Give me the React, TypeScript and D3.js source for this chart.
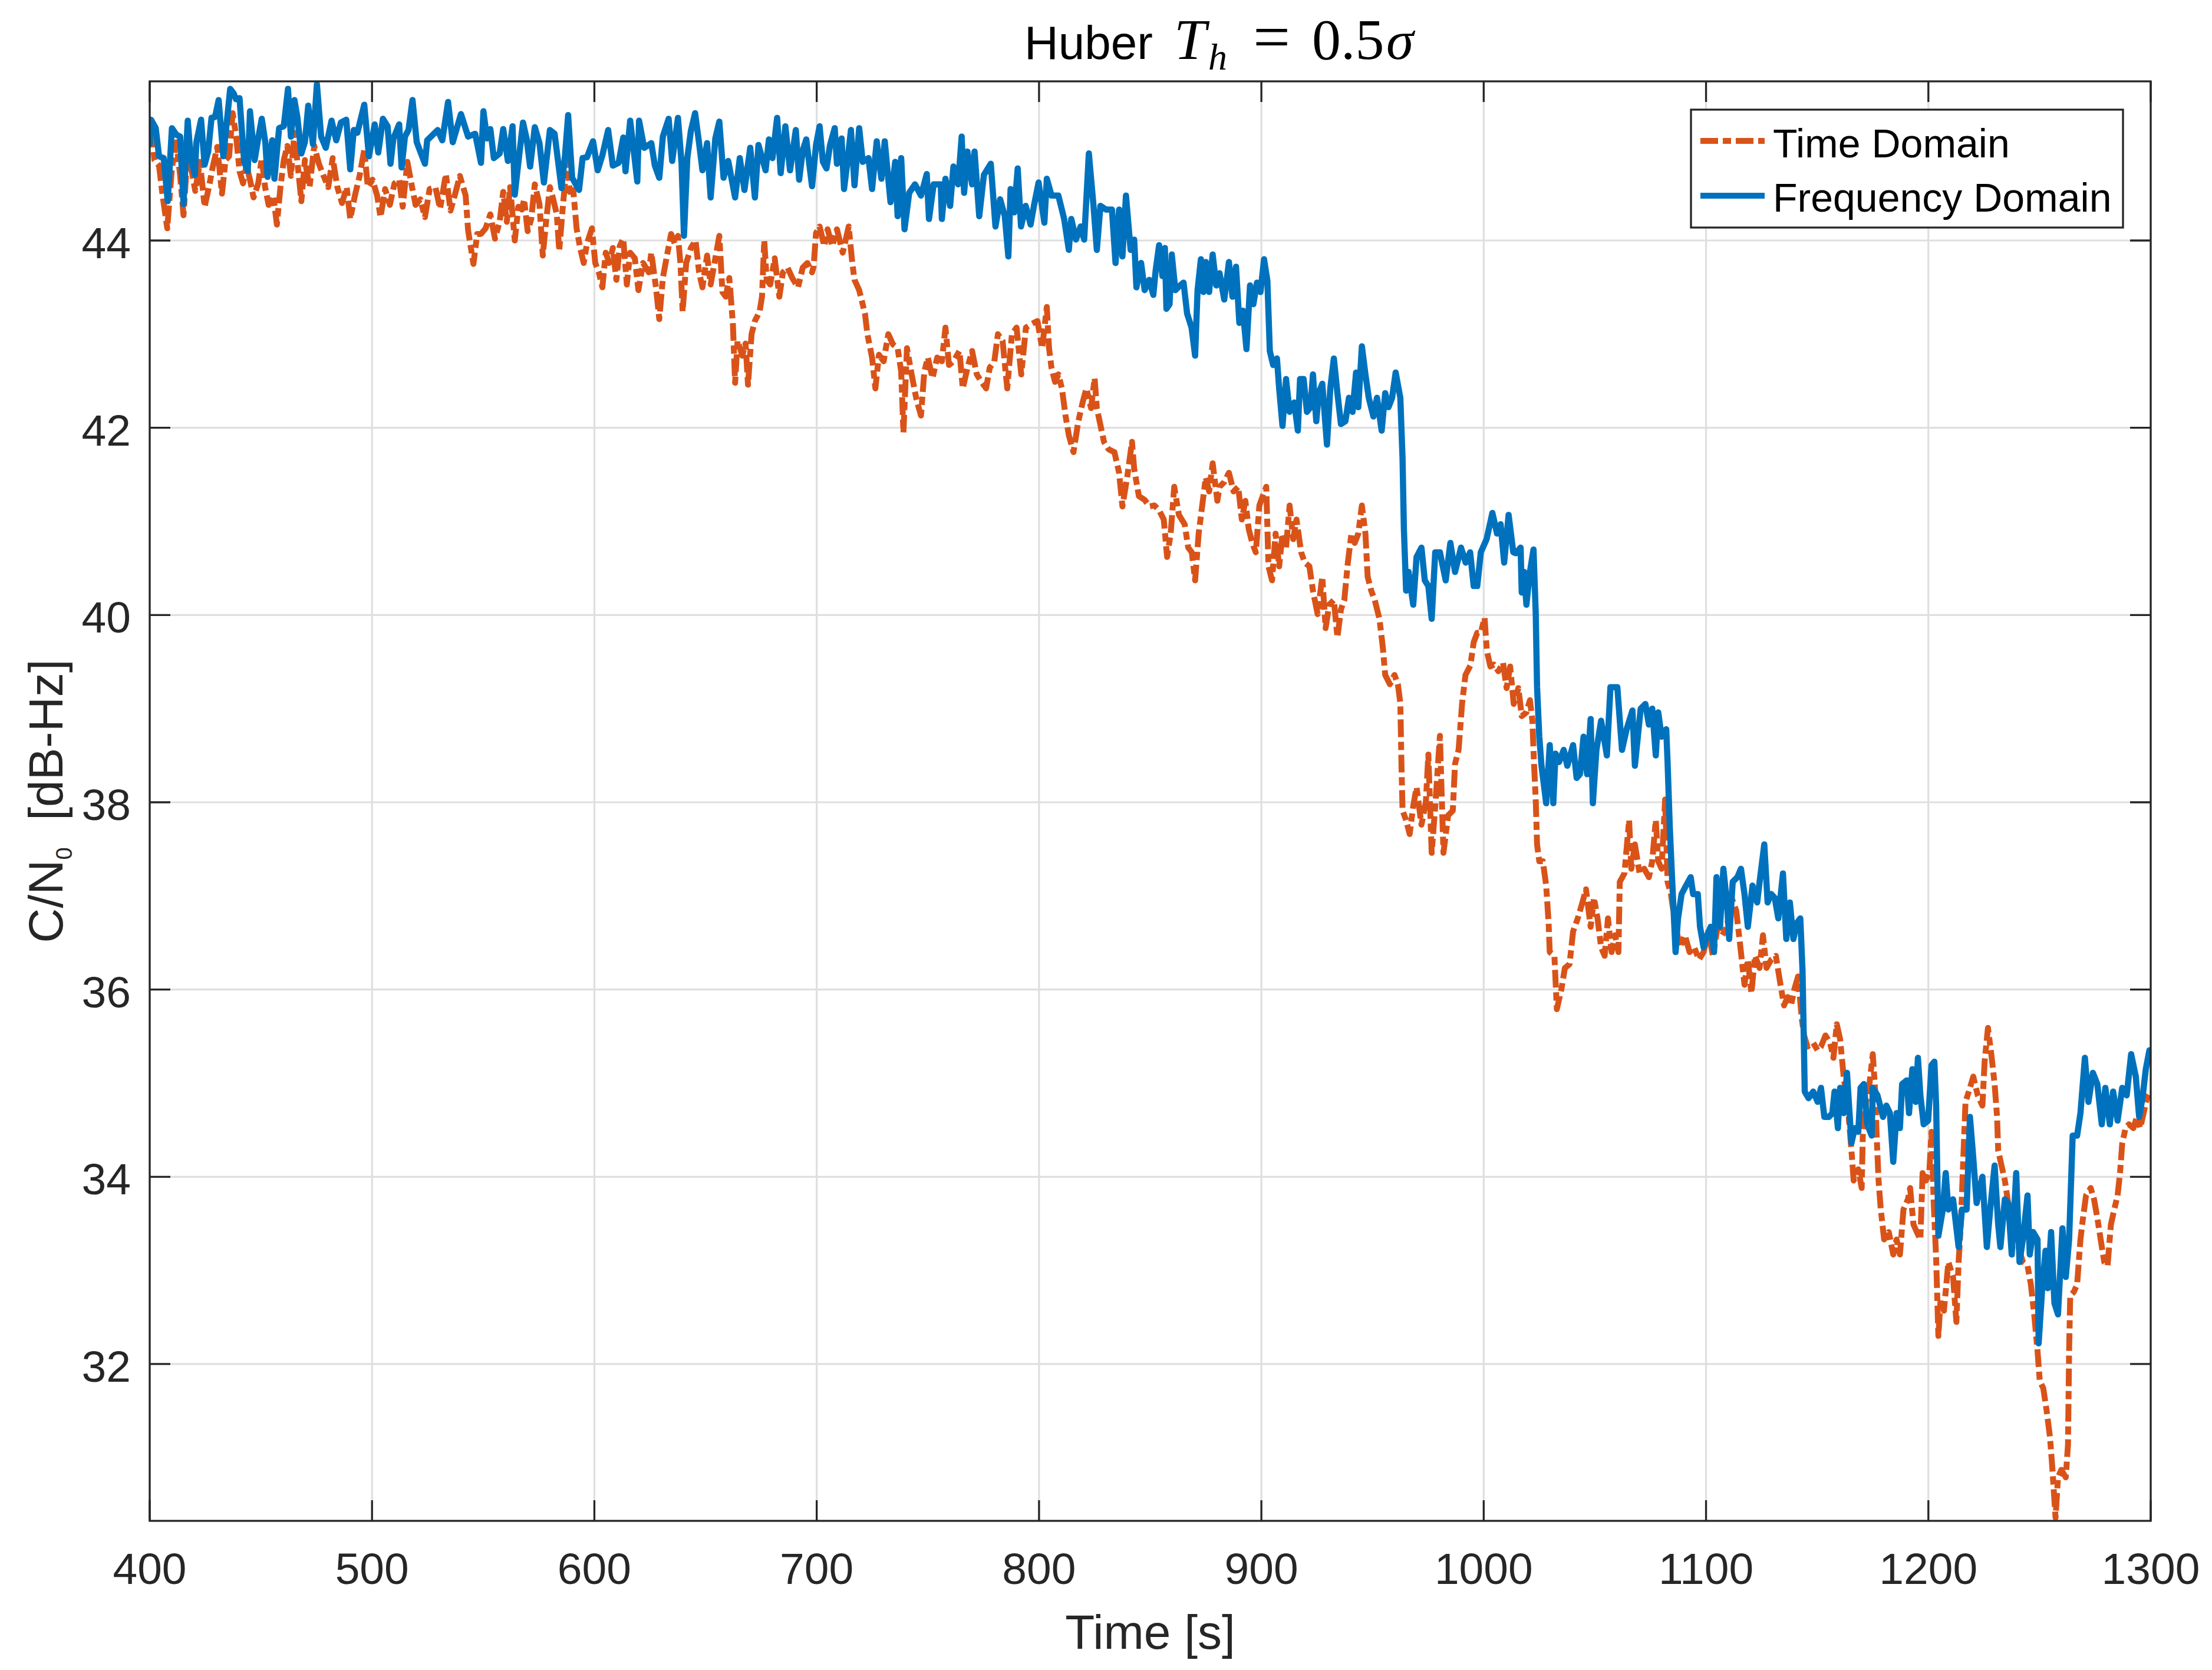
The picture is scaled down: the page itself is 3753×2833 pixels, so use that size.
import React from "react";
import * as d3 from "d3";

// axis limits & ticks
const xDomain = [400, 1300];
const yDomain = [30.325, 45.7];
const xTicks = [400, 500, 600, 700, 800, 900, 1000, 1100, 1200, 1300];
const yTicks = [32, 34, 36, 38, 40, 42, 44];
const seriesNames = ["Time Domain", "Frequency Domain"];

// [time s, C/N0 dB-Hz]
const timeDomain: [number, number][] = [
  [400, 45.0], [400.6, 45.28], [402.1, 44.86], [404.2, 44.8], [405.8, 44.48], [407.9, 44.13], [410, 44.78], [412, 45.05],
  [413.7, 44.69], [415.2, 44.27], [416.8, 44.86], [418.9, 44.74], [420.5, 44.53], [422.6, 44.84], [424.7, 44.36], [426.8, 44.59],
  [428.3, 44.78], [430.4, 45.0], [432.5, 44.5], [434.1, 44.86], [435.7, 44.9], [437.3, 45.36], [438.8, 45.13], [440.4, 44.74],
  [442, 44.61], [443.5, 44.8], [445.1, 44.65], [446.7, 44.46], [448.8, 44.61], [450.4, 44.88], [451.9, 44.57], [453.5, 44.38],
  [455.6, 44.48], [457.2, 44.17], [458.8, 44.57], [460.3, 44.86], [461.9, 45.01], [463.5, 44.69], [465.1, 45.15], [466.6, 44.8],
  [468.2, 44.42], [469.8, 44.86], [471.9, 44.57], [474, 45.01], [476.1, 44.82], [478.2, 44.69], [480.3, 44.57], [482.3, 44.88],
  [484.4, 44.57], [486.5, 44.4], [488.6, 44.57], [490.2, 44.23], [492.3, 44.48], [494.4, 44.69], [496.5, 44.97], [498.1, 44.57],
  [500.2, 44.65], [502.3, 44.48], [503.8, 44.25], [505.9, 44.55], [508, 44.38], [510.1, 44.61], [512.2, 44.65], [513.8, 44.36],
  [515.9, 44.84], [518, 44.57], [519.6, 44.38], [521.7, 44.44], [523.8, 44.25], [525.9, 44.55], [528.5, 44.57], [530.6, 44.34],
  [533.2, 44.71], [535.3, 44.32], [537.4, 44.5], [539.5, 44.69], [542.1, 44.48], [543.2, 44.11], [545.6, 43.75], [547.3, 44.07],
  [549, 44.07], [551.1, 44.13], [553.2, 44.28], [555.3, 44.02], [557.4, 44.2], [559, 44.52], [560.6, 44.2], [562.1, 44.57],
  [564.2, 44.0], [565.8, 44.36], [567.4, 44.33], [568.4, 44.44], [570, 44.1], [571.6, 44.23], [573.2, 44.6], [575.3, 44.39],
  [576.8, 43.84], [578.4, 44.23], [580, 44.57], [581.5, 44.44], [583.1, 44.28], [584.2, 43.89], [585.7, 44.33], [587.8, 44.88],
  [588.9, 44.52], [590.5, 44.54], [592, 44.13], [593.6, 43.92], [595.2, 43.76], [596.7, 43.97], [598.9, 44.13], [600.4, 43.76],
  [602, 43.66], [603.6, 43.5], [605.1, 43.87], [606.7, 43.76], [608.3, 43.92], [609.9, 43.58], [611.4, 43.94], [613, 44.02],
  [614.6, 43.53], [616.1, 43.87], [618.2, 43.81], [619.8, 43.47], [621.9, 43.76], [624.5, 43.66], [625.6, 43.87], [627.7, 43.5],
  [629.2, 43.16], [630.8, 43.6], [632.9, 43.87], [634.5, 44.07], [636.1, 43.97], [637.6, 44.05], [638.7, 43.76], [639.7, 43.24],
  [641.3, 43.76], [643.4, 43.92], [645.5, 44.0], [647.1, 43.66], [648.6, 43.5], [650.7, 43.84], [652.3, 43.53], [654.4, 43.81],
  [656.2, 44.05], [657.6, 43.45], [659.1, 43.4], [660.7, 43.6], [662.3, 43.11], [663.3, 42.48], [664.4, 42.93], [666.5, 42.77],
  [668, 42.9], [669.1, 42.46], [670.7, 43.0], [672.2, 43.14], [674.3, 43.24], [675.4, 43.4], [676.4, 44.0], [677.5, 43.58],
  [679.1, 43.53], [681.1, 43.81], [683.2, 43.4], [684.8, 43.66], [686.9, 43.71], [689, 43.6], [691.6, 43.5], [693.7, 43.71],
  [695.8, 43.76], [697.9, 43.66], [698.6, 43.72], [699.7, 44.08], [701.3, 44.15], [703.4, 43.94], [704.9, 44.12], [707, 43.94],
  [709.1, 44.12], [711.7, 43.87], [714.4, 44.15], [716, 43.76], [717, 43.58], [719.1, 43.47], [721.7, 43.22], [722.8, 43.0],
  [724.9, 42.75], [726.4, 42.42], [728, 42.78], [730.1, 42.71], [732.2, 43.0], [734.3, 42.89], [736.4, 42.85], [738, 42.6],
  [739, 41.95], [740.6, 42.85], [742.7, 42.57], [744.8, 42.31], [746.9, 42.13], [748.4, 42.6], [750, 42.75], [752.1, 42.53],
  [754.2, 42.75], [756.3, 42.71], [757.9, 43.07], [759.5, 42.67], [761.5, 42.71], [764.2, 42.82], [765.7, 42.42], [767.8, 42.64],
  [769.9, 42.82], [772, 42.57], [774.1, 42.49], [776.2, 42.42], [777.8, 42.64], [779.9, 42.71], [781.5, 43.0], [783.6, 42.93],
  [785.7, 42.42], [787.8, 43.0], [789.9, 43.07], [792, 42.57], [794.1, 43.07], [796.7, 43.11], [799.3, 43.14], [801.4, 42.85],
  [803.5, 43.29], [804.5, 42.85], [805.6, 42.64], [807.2, 42.49], [808.7, 42.57], [810.3, 42.42], [811.9, 42.13], [813.4, 41.92],
  [815.5, 41.74], [817.6, 42.06], [819.7, 42.28], [821.3, 42.42], [823.4, 42.21], [825, 42.53], [826, 42.21], [827.6, 42.03],
  [829.2, 41.85], [831.3, 41.77], [833.9, 41.74], [836, 41.52], [837.5, 41.16], [839.7, 41.48], [841.8, 41.85], [842.8, 41.56],
  [844.9, 41.27], [847.5, 41.23], [849.6, 41.16], [851.9, 41.17], [854, 41.12], [856.1, 41.02], [857.6, 40.62], [859.2, 40.87],
  [860.8, 41.37], [862.9, 41.07], [865.5, 40.97], [867.1, 40.72], [868.7, 40.67], [870.2, 40.37], [871.8, 40.87], [873.4, 41.17],
  [875, 41.47], [876.5, 41.32], [878.1, 41.62], [880.2, 41.22], [881.2, 41.37], [883.3, 41.42], [885.4, 41.52], [887.5, 41.32],
  [889.6, 41.37], [891.2, 41.02], [892.8, 41.22], [894.3, 40.92], [895.9, 40.77], [897.5, 40.67], [899.1, 41.17], [900.6, 41.27],
  [902.2, 41.37], [903.2, 40.52], [904.8, 40.37], [906.4, 40.87], [908, 40.52], [909.5, 40.87], [911.1, 40.72], [912.7, 41.17],
  [914.3, 40.81], [915.8, 41.02], [917.9, 40.67], [919.5, 40.56], [921.6, 40.52], [923.2, 40.26], [925.3, 40.01], [927.4, 40.41],
  [928.9, 39.86], [930.5, 40.11], [932.6, 40.16], [934.2, 39.76], [935.8, 40.06], [937.3, 40.16], [938.9, 40.56], [940.5, 40.87],
  [942, 40.77], [943.6, 40.87], [945.2, 41.17], [946.8, 40.87], [947.8, 40.41], [949.4, 40.26], [951, 40.16], [953.1, 39.96],
  [954.6, 39.66], [955.7, 39.36], [957.8, 39.26], [959.9, 39.36], [961.4, 39.26], [962.5, 39.06], [963, 38.41], [963.5, 37.91],
  [965.1, 37.81], [966.7, 37.66], [968.3, 37.96], [969.8, 38.16], [972, 37.76], [974, 38.01], [975.1, 38.51], [976.6, 37.46],
  [978.2, 37.96], [980.3, 38.71], [981.9, 37.46], [984, 37.86], [986.1, 37.91], [987.1, 38.41], [988.7, 38.56], [990.3, 39.06],
  [991.8, 39.36], [994, 39.46], [995.5, 39.71], [997.1, 39.81], [998.7, 39.81], [1000.4, 39.97], [1001.4, 39.62], [1003, 39.45],
  [1004.6, 39.47], [1006.6, 39.4], [1008.7, 39.49], [1010.3, 39.22], [1011.9, 39.45], [1013.5, 39.05], [1015.6, 39.22], [1017.1, 38.92],
  [1019.2, 38.96], [1020.8, 39.09], [1021.9, 38.87], [1022.6, 38.43], [1023.4, 38.03], [1024, 37.55], [1025, 37.37], [1026.6, 37.37],
  [1028.1, 37.11], [1029.2, 36.71], [1029.7, 36.4], [1031.8, 36.36], [1032.9, 35.79], [1035, 36.01], [1036.5, 36.23], [1038.6, 36.27],
  [1040.2, 36.62], [1042.3, 36.76], [1044.4, 36.93], [1046, 37.07], [1048.1, 36.67], [1049.6, 36.98], [1051.2, 36.76], [1052.8, 36.45],
  [1054.4, 36.36], [1055.9, 36.76], [1057.5, 36.4], [1059.1, 36.58], [1060.6, 36.4], [1061.2, 37.15], [1063.3, 37.24], [1065.4, 37.81],
  [1066.4, 37.29], [1068, 37.55], [1070.1, 37.24], [1072.2, 37.29], [1074.3, 37.2], [1075.8, 37.37], [1077.4, 37.81], [1078.5, 37.37],
  [1080, 37.29], [1081.6, 38.03], [1082.7, 37.15], [1084.2, 37.02], [1086.3, 36.67], [1088.4, 36.45], [1090.5, 36.58], [1092.6, 36.4],
  [1094.7, 36.45], [1096.8, 36.32], [1098.9, 36.4], [1101, 36.62], [1103.1, 36.36], [1105.2, 36.67], [1107.3, 36.58], [1109.4, 36.67],
  [1111.5, 36.98], [1113.6, 36.84], [1115.7, 36.4], [1117.3, 36.05], [1118.8, 36.32], [1120.4, 35.96], [1122, 36.36], [1124.1, 36.23],
  [1125.6, 36.58], [1127.2, 36.23], [1129.3, 36.32], [1131.4, 36.36], [1133.5, 36.05], [1135.1, 35.83], [1136.7, 35.92], [1138.2, 35.83],
  [1139.8, 36.01], [1141.4, 36.14], [1143, 35.7], [1144.1, 35.51], [1145.6, 35.39], [1148.2, 35.43], [1150.2, 35.35], [1151.7, 35.39],
  [1153.7, 35.51], [1155.8, 35.43], [1157.3, 35.27], [1158.8, 35.63], [1160.3, 35.47], [1161.9, 35.07], [1163.9, 34.72], [1165.4, 34.28],
  [1166.4, 33.96], [1168.5, 34.08], [1170, 33.88], [1170.5, 34.44], [1172, 34.8], [1173.5, 34.99], [1175, 35.31], [1176.1, 34.91],
  [1176.6, 34.52], [1177.6, 33.96], [1178.6, 33.65], [1180.1, 33.33], [1182.2, 33.41], [1184.2, 33.17], [1185.7, 33.33], [1187.2, 33.17],
  [1188.8, 33.65], [1190.8, 33.76], [1191.8, 33.88], [1193.3, 33.49], [1194.8, 33.41], [1196.4, 33.33], [1197.4, 34.04], [1198.9, 33.96],
  [1200.4, 34.04], [1201.4, 34.48], [1202.4, 33.72], [1203.5, 33.13], [1204.5, 32.3], [1205.5, 32.69], [1207, 32.57], [1209, 33.09],
  [1211.1, 32.93], [1212.6, 32.45], [1213.6, 33.09], [1214.6, 33.49], [1215.6, 34.12], [1216.7, 34.8], [1218.2, 34.91], [1220.2, 35.07],
  [1222.2, 34.87], [1224.3, 34.76], [1225.3, 35.23], [1226.8, 35.59], [1228.3, 35.31], [1229.8, 34.99], [1230.9, 34.64], [1231.4, 34.28],
  [1232.9, 34.12], [1234.4, 33.96], [1235.9, 33.72], [1237.5, 33.49], [1239, 33.56], [1240.5, 33.25], [1242.5, 33.09], [1244.6, 33.05],
  [1246.1, 32.85], [1247.6, 32.53], [1249.1, 32.14], [1250.1, 31.82], [1251.7, 31.74], [1253.2, 31.5], [1254.7, 31.22], [1255.7, 30.91],
  [1257.2, 30.36], [1258.3, 30.79], [1259.8, 30.87], [1261.8, 30.79], [1262.8, 31.14], [1263.3, 32.14], [1263.8, 32.73], [1265.4, 32.77],
  [1266.9, 32.85], [1268.4, 33.33], [1269.4, 33.53], [1270.9, 33.8], [1273, 33.88], [1274.5, 33.76], [1276, 33.56], [1277.5, 33.33],
  [1279.1, 33.09], [1280.6, 33.05], [1282.1, 33.49], [1283.6, 33.65], [1285.1, 33.8], [1286.2, 34.04], [1287.2, 34.36], [1288.7, 34.52],
  [1290.2, 34.56], [1292.2, 34.52], [1293.8, 34.64], [1295.3, 34.52], [1296.8, 34.68], [1298.3, 34.84], [1300, 34.91],
];

const frequencyDomain: [number, number][] = [
  [400, 45.03], [400.6, 45.29], [402.7, 45.2], [404.2, 44.9], [406.3, 44.88], [408.1, 44.42], [410, 45.2], [412, 45.13],
  [413.7, 45.11], [415.2, 44.39], [417.1, 45.28], [418.4, 44.9], [420.3, 44.7], [421, 45.05], [423.1, 45.29], [424.7, 44.81],
  [426.3, 44.95], [427.8, 45.31], [429.4, 45.32], [431, 45.5], [433.1, 44.9], [436.2, 45.62], [437.8, 45.57], [438.8, 45.51],
  [440.4, 45.52], [442.5, 44.84], [444.1, 44.74], [445.1, 45.38], [447.2, 44.86], [448.8, 45.09], [450.4, 45.3], [452, 45.05],
  [453, 44.68], [455.1, 45.07], [456.1, 44.66], [458.2, 45.2], [460.3, 45.22], [462.2, 45.62], [463.5, 45.11], [465.1, 45.5],
  [466.4, 45.32], [468.2, 44.93], [469.8, 45.05], [471.3, 45.44], [473.4, 45.03], [475.2, 45.67], [477.1, 45.11], [479.2, 44.99],
  [481.8, 45.28], [483.9, 45.07], [486, 45.26], [488.4, 45.29], [490.2, 44.76], [491.8, 45.18], [493.4, 45.15], [496.5, 45.45],
  [498.6, 44.9], [501.2, 45.24], [502.8, 44.94], [504.9, 45.3], [507, 45.22], [508.3, 44.82], [509.6, 45.09], [512.2, 45.24],
  [513.3, 44.78], [514.8, 45.11], [516.4, 45.18], [518.2, 45.5], [520.1, 45.05], [523.8, 44.82], [524.8, 45.07], [527.4, 45.13],
  [529.5, 45.18], [531.6, 45.07], [534.2, 45.48], [536.3, 45.05], [540, 45.35], [543.2, 45.11], [546.4, 45.14], [549, 44.83],
  [550.1, 45.38], [551.7, 45.09], [553.2, 45.19], [554.8, 44.88], [557.4, 44.93], [559, 45.19], [561.1, 44.85], [563.2, 45.22],
  [564.2, 44.49], [565.8, 44.83], [567.9, 45.26], [569.5, 45.09], [571.1, 44.79], [573.2, 45.21], [575.3, 45.04], [577.3, 44.62],
  [580, 45.18], [582.1, 45.14], [585.2, 44.56], [586.8, 44.91], [588.2, 45.34], [590, 44.67], [593.1, 44.54], [594.7, 44.88],
  [596.7, 44.89], [599.4, 45.06], [601.5, 44.75], [603.6, 44.91], [606.2, 45.18], [608.3, 44.8], [610.9, 44.83], [613, 45.1],
  [614, 44.74], [616.1, 45.28], [617.7, 44.96], [619.3, 44.63], [620.1, 45.28], [622.4, 44.99], [625.6, 45.04], [627.2, 44.8],
  [629.2, 44.67], [630.8, 45.11], [633.4, 45.3], [635, 44.85], [637.6, 45.31], [639.2, 44.83], [640.3, 44.05], [641.8, 44.88],
  [643.4, 45.17], [645.3, 45.36], [647.1, 45.04], [648.6, 44.75], [650.7, 45.04], [652.3, 44.46], [654.4, 45.09], [656.2, 45.27],
  [658.1, 44.67], [660.2, 44.85], [663.3, 44.46], [665.4, 44.88], [667.5, 44.54], [670.1, 44.99], [672.2, 44.46], [673.8, 45.02],
  [677, 44.75], [678.5, 45.08], [680.1, 44.88], [682.2, 45.31], [683.8, 44.72], [685.9, 45.22], [688, 44.75], [690.6, 45.18],
  [692.1, 44.65], [693.7, 44.96], [695.3, 45.08], [697.9, 44.58], [699.7, 45.02], [701.3, 45.22], [702.8, 44.84], [704.4, 44.77],
  [706, 45.02], [708.1, 45.2], [709.1, 44.82], [711.2, 45.09], [712.3, 44.55], [713.8, 44.84], [715.4, 45.18], [717, 44.59],
  [719.1, 45.2], [720.7, 44.84], [723.3, 44.88], [724.9, 44.55], [727, 45.06], [729.1, 44.66], [730.6, 45.06], [733.2, 44.41],
  [735.3, 44.84], [736.4, 44.26], [738, 44.88], [739.5, 44.12], [741.6, 44.51], [744.2, 44.6], [746.9, 44.48], [749.5, 44.71],
  [750.5, 44.23], [752.6, 44.6], [755.8, 44.6], [756.3, 44.23], [757.9, 44.66], [760, 44.37], [761.5, 44.79], [763.6, 44.6],
  [765.2, 45.11], [766.3, 44.51], [767.8, 44.95], [769.9, 44.6], [771, 44.95], [773.1, 44.26], [775.2, 44.7], [778.3, 44.82],
  [780.4, 44.15], [782.5, 44.44], [784.6, 44.26], [786.2, 43.83], [787.2, 44.55], [788.8, 44.3], [790.4, 44.77], [791.9, 44.15],
  [794, 44.37], [796.2, 44.17], [797.7, 44.37], [799.8, 44.62], [802.4, 44.19], [803.5, 44.66], [805.6, 44.48], [808.7, 44.48],
  [811.3, 44.23], [813.4, 43.9], [814.5, 44.23], [816.6, 44.01], [818.7, 44.15], [820.3, 44.01], [822.4, 44.93], [824.5, 44.37],
  [826, 43.9], [827.6, 44.37], [830.2, 44.33], [832.8, 44.33], [834.4, 43.76], [836, 44.33], [837.5, 43.83], [839.1, 44.48],
  [841.2, 43.9], [842.8, 44.01], [843.8, 43.5], [845.9, 43.76], [847.5, 43.47], [849.6, 43.58], [851.4, 43.42], [852.4, 43.67],
  [854, 43.95], [855.5, 43.62], [856.6, 43.92], [857.3, 43.27], [858.7, 43.32], [859.7, 43.85], [861.3, 43.47], [863.4, 43.52],
  [865, 43.55], [866.6, 43.22], [868.6, 43.07], [870.2, 42.77], [871.3, 43.47], [872.8, 43.8], [873.9, 43.45], [875, 43.77],
  [876.5, 43.45], [878.1, 43.85], [879.7, 43.52], [881.2, 43.65], [883.3, 43.37], [885.4, 43.77], [887, 43.4], [888.6, 43.72],
  [890.1, 43.12], [891.7, 43.25], [893.3, 42.84], [894.9, 43.52], [896.4, 43.32], [898, 43.55], [899.6, 43.45], [901.2, 43.8],
  [902.7, 43.57], [903.8, 42.82], [905.3, 42.67], [907, 42.74], [908, 42.42], [909.5, 42.02], [911.1, 42.52], [912.7, 42.17],
  [914.8, 42.27], [916.4, 41.97], [917.4, 42.52], [919, 42.52], [920.5, 42.17], [922.1, 42.22], [923.2, 42.57], [924.7, 42.07],
  [925.8, 42.37], [927.4, 42.47], [929.5, 41.82], [931, 42.42], [932.6, 42.74], [934.2, 42.37], [935.8, 42.04], [937.8, 42.07],
  [939.4, 42.32], [941, 42.17], [942.6, 42.59], [943.6, 42.22], [945.2, 42.87], [946.8, 42.57], [948.3, 42.32], [950.4, 42.12],
  [952, 42.32], [954.1, 41.97], [955.7, 42.37], [957.2, 42.22], [958.8, 42.32], [960.4, 42.59], [962.5, 42.32], [963.5, 41.67],
  [964.1, 40.92], [965.1, 40.26], [966.2, 40.46], [968.3, 40.11], [969.8, 40.62], [972, 40.72], [973.5, 40.37], [975.1, 40.31],
  [976.6, 39.96], [978.2, 40.67], [980.3, 40.67], [982.9, 40.37], [985, 40.77], [987.1, 40.46], [989.8, 40.72], [991.9, 40.56],
  [993.9, 40.67], [995.5, 40.31], [997.1, 40.31], [998.7, 40.67], [1001.3, 40.81], [1003.9, 41.09], [1006, 40.87], [1007.6, 40.97],
  [1009.2, 40.56], [1011.2, 41.07], [1013.3, 40.67], [1014.5, 40.66], [1016.6, 40.72], [1017.1, 40.24], [1018.2, 40.46], [1019.2, 40.11],
  [1020.8, 40.46], [1022.4, 40.7], [1023.4, 40.02], [1024, 39.23], [1025, 38.7], [1026, 38.39], [1028.1, 37.99], [1029.7, 38.61],
  [1031.3, 37.99], [1032.3, 38.52], [1033.9, 38.43], [1036, 38.56], [1037.6, 38.39], [1040.2, 38.61], [1041.8, 38.26], [1043.3, 38.3],
  [1044.9, 38.7], [1046.5, 38.3], [1048.1, 38.89], [1049.1, 37.99], [1050.7, 38.56], [1052.8, 38.87], [1055.4, 38.5], [1057, 39.23],
  [1060.1, 39.23], [1062.2, 38.56], [1064.3, 38.78], [1066.9, 38.98], [1068, 38.39], [1070.6, 39.0], [1072.7, 39.05], [1074.3, 38.83],
  [1075.8, 39.0], [1077.4, 38.5], [1078.5, 38.96], [1080, 38.7], [1082.1, 38.78], [1082.7, 38.43], [1083.7, 37.73], [1084.8, 37.15],
  [1086.3, 36.4], [1087.4, 36.76], [1089, 37.02], [1091, 37.11], [1093.1, 37.2], [1094.2, 37.02], [1096.3, 37.02], [1097.3, 36.67],
  [1098.9, 36.45], [1100.5, 36.58], [1102.1, 36.67], [1103.6, 36.4], [1104.7, 37.2], [1106.3, 36.67], [1107.8, 37.29], [1109.4, 36.93],
  [1110.4, 36.54], [1112, 37.15], [1114.1, 37.2], [1115.7, 37.29], [1117.3, 37.02], [1118.8, 36.67], [1120.9, 37.11], [1123, 36.93],
  [1124.1, 37.15], [1126.2, 37.55], [1127.7, 36.93], [1129.3, 37.02], [1130.9, 36.98], [1132.5, 36.76], [1134.6, 37.24], [1136.1, 36.54],
  [1137.7, 36.93], [1139.3, 36.54], [1140.8, 36.71], [1142.4, 36.76], [1143.4, 36.2], [1144.4, 34.91], [1146.1, 34.84], [1148.2, 34.91],
  [1150.2, 34.8], [1151.7, 34.95], [1153.2, 34.64], [1155.3, 34.64], [1156.8, 34.68], [1157.8, 34.91], [1159.3, 34.52], [1160.3, 34.95],
  [1161.9, 34.68], [1163.4, 35.11], [1165.4, 34.36], [1166.9, 34.52], [1168.5, 34.48], [1169.5, 34.95], [1171, 34.99], [1172.5, 34.56],
  [1174.5, 34.44], [1175, 34.95], [1177.1, 34.87], [1179.6, 34.64], [1181.1, 34.76], [1182.7, 34.68], [1184.2, 34.16], [1185.7, 34.68],
  [1187.2, 34.52], [1188.2, 34.99], [1190.3, 35.03], [1191.3, 34.68], [1192.8, 35.15], [1194.3, 34.8], [1195.3, 35.27], [1196.4, 34.87],
  [1197.9, 34.56], [1199.9, 34.6], [1201.4, 35.19], [1202.7, 35.23], [1203.5, 34.76], [1204.5, 33.37], [1206.5, 33.65], [1207.8, 34.04],
  [1209, 33.65], [1211.1, 33.76], [1213.6, 33.25], [1215.1, 33.65], [1217.2, 33.65], [1218.7, 34.64], [1220.2, 34.2], [1221.7, 33.72],
  [1224.3, 34.0], [1226.3, 33.25], [1227.8, 33.65], [1229.8, 34.12], [1231.4, 33.49], [1232.4, 33.25], [1234.4, 33.76], [1235.9, 33.72],
  [1237.5, 33.17], [1239.5, 34.04], [1241, 33.09], [1242.5, 33.33], [1244.6, 33.8], [1245.6, 33.17], [1247.1, 33.41], [1249.1, 33.33],
  [1249.6, 32.22], [1251.2, 32.81], [1252.7, 33.21], [1253.7, 32.81], [1255.2, 33.41], [1256.7, 32.65], [1258.3, 32.53], [1260.3, 33.45],
  [1261.8, 32.93], [1263.3, 33.33], [1264.9, 34.44], [1266.9, 34.44], [1268.4, 34.68], [1270.4, 35.27], [1272, 34.8], [1274, 35.11],
  [1276, 34.99], [1278, 34.56], [1279.6, 34.95], [1281.6, 34.56], [1283.1, 34.91], [1285.1, 34.6], [1287.2, 34.95], [1289.2, 34.87],
  [1291.2, 35.31], [1293.3, 35.07], [1294.8, 34.64], [1296.3, 34.84], [1297.8, 35.15], [1299.4, 35.35], [1300, 35.23],
];

const W = 3753;
const H = 2833;
const plot = { left: 254, right: 3649, top: 138, bottom: 2580 };
const orange = "#D95319";
const blue = "#0072BD";
const axisColor = "#262626";
const sans = "'Liberation Sans', Arial, Helvetica, sans-serif";
const serif = "'Liberation Serif', 'Times New Roman', serif";

export default function App() {
  const x = d3.scaleLinear().domain(xDomain).range([plot.left, plot.right]);
  const y = d3.scaleLinear().domain(yDomain).range([plot.bottom, plot.top]);
  const line = d3
    .line<[number, number]>()
    .x((d) => x(d[0]))
    .y((d) => y(d[1]));
  const tickLen = 35;

  return (
    <svg
      width={W}
      height={H}
      viewBox={`0 0 ${W} ${H}`}
      style={{ position: "absolute", left: 0, top: 0, background: "#fff" }}
    >
      <defs>
        <clipPath id="plot-clip">
          <rect x={plot.left} y={plot.top} width={plot.right - plot.left} height={plot.bottom - plot.top} />
        </clipPath>
      </defs>
      <rect x={0} y={0} width={W} height={H} fill="#fff" />

      {/* grid */}
      <g stroke="#dfdfdf" strokeWidth={3.2}>
        {xTicks.map((t) => (
          <line key={"gx" + t} x1={x(t)} x2={x(t)} y1={plot.top} y2={plot.bottom} />
        ))}
        {yTicks.map((t) => (
          <line key={"gy" + t} x1={plot.left} x2={plot.right} y1={y(t)} y2={y(t)} />
        ))}
      </g>

      {/* series */}
      <g clipPath="url(#plot-clip)" fill="none">
        <path
          d={line(timeDomain) ?? ""}
          stroke={orange}
          strokeWidth={10}
          strokeDasharray="30 8 14 8"
          strokeLinejoin="round"
        />
        <path d={line(frequencyDomain) ?? ""} stroke={blue} strokeWidth={10.5} strokeLinejoin="round" strokeLinecap="round" />
      </g>

      {/* axes box and ticks */}
      <g stroke={axisColor} strokeWidth={3.3} fill="none">
        <rect x={plot.left} y={plot.top} width={plot.right - plot.left} height={plot.bottom - plot.top} />
        {xTicks.map((t) => (
          <g key={"tx" + t}>
            <line x1={x(t)} x2={x(t)} y1={plot.bottom} y2={plot.bottom - tickLen} />
            <line x1={x(t)} x2={x(t)} y1={plot.top} y2={plot.top + tickLen} />
          </g>
        ))}
        {yTicks.map((t) => (
          <g key={"ty" + t}>
            <line x1={plot.left} x2={plot.left + tickLen} y1={y(t)} y2={y(t)} />
            <line x1={plot.right} x2={plot.right - tickLen} y1={y(t)} y2={y(t)} />
          </g>
        ))}
      </g>

      {/* tick labels */}
      <g fill={axisColor} fontFamily={sans} fontSize={75}>
        {xTicks.map((t) => (
          <text key={"lx" + t} x={x(t)} y={plot.bottom + 107} textAnchor="middle">
            {t}
          </text>
        ))}
        {yTicks.map((t) => (
          <text key={"ly" + t} x={plot.left - 32} y={y(t) + 30} textAnchor="end">
            {t}
          </text>
        ))}
      </g>

      {/* axis labels */}
      <text x={(plot.left + plot.right) / 2} y={2797} textAnchor="middle" fontFamily={sans} fontSize={82} fill={axisColor}>
        Time [s]
      </text>
      <text
        transform={`translate(106, ${(plot.top + plot.bottom) / 2}) rotate(-90)`}
        textAnchor="middle"
        fontFamily={sans}
        fontSize={82}
        fill={axisColor}
        style={{ whiteSpace: "pre" }}
      >
        C/N
        <tspan fontSize={38} dy={16}>0</tspan>
        <tspan dy={-16}>{"  [dB-Hz]"}</tspan>
      </text>

      {/* title */}
      <g fill="#000">
        <text x={1738} y={100} fontFamily={sans} fontSize={80}>Huber</text>
        <text x={1992} y={100} fontFamily={serif} fontStyle="italic" fontSize={98}>T</text>
        <text x={2050} y={118} fontFamily={serif} fontStyle="italic" fontSize={64}>h</text>
        <text x={2126} y={100} fontFamily={serif} fontSize={112}>=</text>
        <text x={2226} y={100} fontFamily={serif} fontSize={98}>0.5</text>
        <text x={2352} y={100} fontFamily={serif} fontStyle="italic" fontSize={94}>σ</text>
      </g>

      {/* legend */}
      <g>
        <rect x={2869} y={186} width={733} height={200} fill="#fff" stroke={axisColor} strokeWidth={3.3} />
        <line x1={2885} x2={2994} y1={239} y2={239} stroke={orange} strokeWidth={10} strokeDasharray="30 8 14 8" />
        <line x1={2885} x2={2994} y1={332} y2={332} stroke={blue} strokeWidth={10} />
        <text x={3008} y={267} fontFamily={sans} fontSize={68} fill="#000">{seriesNames[0]}</text>
        <text x={3008} y={359} fontFamily={sans} fontSize={68} fill="#000">{seriesNames[1]}</text>
      </g>
    </svg>
  );
}
